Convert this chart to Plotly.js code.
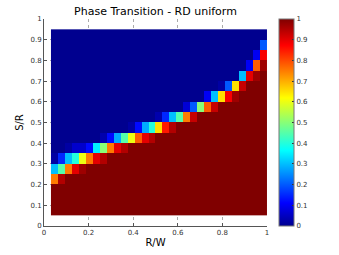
<!DOCTYPE html>
<html>
<head>
<meta charset="utf-8">
<script src="https://cdn.plot.ly/plotly-3.0.1.min.js"></script>
<style>html,body{margin:0;padding:0;background:#fff;}#chart{width:339px;height:255px;}</style>
</head>
<body>
<div id="chart"></div>
<script>
// Column centres along R/W (31 cells of width 1/32) and row centres along S/R (18 cells of 0.05)
var rw = [0.046875,0.078125,0.109375,0.140625,0.171875,0.203125,0.234375,0.265625,0.296875,0.328125,
          0.359375,0.390625,0.421875,0.453125,0.484375,0.515625,0.546875,0.578125,0.609375,0.640625,
          0.671875,0.703125,0.734375,0.765625,0.796875,0.828125,0.859375,0.890625,0.921875,0.953125,0.984375];
var sr = [0.075,0.125,0.175,0.225,0.275,0.325,0.375,0.425,0.475,0.525,0.575,0.625,0.675,0.725,0.775,0.825,0.875,0.925];

// success fraction, one row per S/R value (bottom to top), 31 columns each
var row01 = [1,1,1,1,1,1,1,1,1,1,1,1,1,1,1,1,1,1,1,1,1,1,1,1,1,1,1,1,1,1,1];
var row02 = [1,1,1,1,1,1,1,1,1,1,1,1,1,1,1,1,1,1,1,1,1,1,1,1,1,1,1,1,1,1,1];
var row03 = [1,1,1,1,1,1,1,1,1,1,1,1,1,1,1,1,1,1,1,1,1,1,1,1,1,1,1,1,1,1,1];
var row04 = [0.75,0.95,1,1,1,1,1,1,1,1,1,1,1,1,1,1,1,1,1,1,1,1,1,1,1,1,1,1,1,1,1];
var row05 = [0.3,0.45,0.75,0.9,0.97,1,1,1,1,1,1,1,1,1,1,1,1,1,1,1,1,1,1,1,1,1,1,1,1,1,1];
var row06 = [0.02,0.15,0.3,0.4,0.6,0.75,0.9,0.95,1,1,1,1,1,1,1,1,1,1,1,1,1,1,1,1,1,1,1,1,1,1,1];
var row07 = [0,0,0.02,0.06,0.06,0.12,0.35,0.5,0.75,0.9,0.95,1,1,1,1,1,1,1,1,1,1,1,1,1,1,1,1,1,1,1,1];
var row08 = [0,0,0,0,0,0,0,0.03,0.12,0.28,0.45,0.6,0.78,0.9,0.95,1,1,1,1,1,1,1,1,1,1,1,1,1,1,1,1];
var row09 = [0,0,0,0,0,0,0,0,0,0,0,0.02,0.12,0.28,0.4,0.65,0.85,0.95,1,1,1,1,1,1,1,1,1,1,1,1,1];
var row10 = [0,0,0,0,0,0,0,0,0,0,0,0,0,0,0,0.03,0.15,0.3,0.45,0.75,0.93,1,1,1,1,1,1,1,1,1,1];
var row11 = [0,0,0,0,0,0,0,0,0,0,0,0,0,0,0,0,0,0,0,0.07,0.2,0.5,0.78,0.93,1,1,1,1,1,1,1];
var row12 = [0,0,0,0,0,0,0,0,0,0,0,0,0,0,0,0,0,0,0,0,0,0,0.1,0.3,0.65,0.88,0.97,1,1,1,1];
var row13 = [0,0,0,0,0,0,0,0,0,0,0,0,0,0,0,0,0,0,0,0,0,0,0,0,0.02,0.2,0.65,0.93,1,1,1];
var row14 = [0,0,0,0,0,0,0,0,0,0,0,0,0,0,0,0,0,0,0,0,0,0,0,0,0,0,0,0.3,0.9,0.97,1];
var row15 = [0,0,0,0,0,0,0,0,0,0,0,0,0,0,0,0,0,0,0,0,0,0,0,0,0,0,0,0,0.1,0.78,0.97];
var row16 = [0,0,0,0,0,0,0,0,0,0,0,0,0,0,0,0,0,0,0,0,0,0,0,0,0,0,0,0,0,0.1,0.88];
var row17 = [0,0,0,0,0,0,0,0,0,0,0,0,0,0,0,0,0,0,0,0,0,0,0,0,0,0,0,0,0,0,0.2];
var row18 = [0,0,0,0,0,0,0,0,0,0,0,0,0,0,0,0,0,0,0,0,0,0,0,0,0,0,0,0,0,0,0];

var xTicks = [0,0.2,0.4,0.6,0.8,1];
var xTickText = ['0','0.2','0.4','0.6','0.8','1'];
var yTicks = [0,0.1,0.2,0.3,0.4,0.5,0.6,0.7,0.8,0.9,1];
var yTickText = ['0','0.1','0.2','0.3','0.4','0.5','0.6','0.7','0.8','0.9','1'];
var cbTicks = [0,0.1,0.2,0.3,0.4,0.5,0.6,0.7,0.8,0.9,1];
var cbTickText = ['0','0.1','0.2','0.3','0.4','0.5','0.6','0.7','0.8','0.9','1'];

var z = [row01,row02,row03,row04,row05,row06,row07,row08,row09,row10,row11,row12,row13,row14,row15,row16,row17,row18];

var jet = [[0,'rgb(0,0,143)'],[0.111,'rgb(0,0,255)'],[0.365,'rgb(0,255,255)'],
           [0.619,'rgb(255,255,0)'],[0.873,'rgb(255,0,0)'],[1,'rgb(128,0,0)']];

var tickFont = {family:'DejaVu Sans, sans-serif', size:7, color:'#333'};

var trace = {
  type:'heatmap', x: rw, y: sr, z: z,
  zmin:0, zmax:1, colorscale: jet,
  xgap:0, ygap:0,
  colorbar:{
    x:1.0538, xanchor:'left', xref:'paper',
    y:0.5, yanchor:'middle', len:1, lenmode:'fraction',
    thickness:15, thicknessmode:'pixels',
    outlinewidth:1, outlinecolor:'#777',
    tickmode:'array', tickvals: cbTicks, ticktext: cbTickText,
    ticks:'inside', ticklen:2, tickcolor:'#333',
    tickfont: tickFont, xpad:0, ypad:0
  }
};

var layout = {
  width:339, height:255,
  margin:{l:44, r:72, t:19, b:29, pad:0},
  paper_bgcolor:'#fff', plot_bgcolor:'#fff',
  title:{text:'Phase Transition - RD uniform', x:0.5, xref:'paper', xanchor:'center',
         y:0.955, yref:'container', yanchor:'middle',
         font:{family:'DejaVu Sans, sans-serif', size:11, color:'#000'}},
  xaxis:{range:[0,1], tickmode:'array', tickvals:xTicks, ticktext:xTickText,
         ticks:'inside', ticklen:3, tickcolor:'#555',
         showline:true, linecolor:'#555', linewidth:1, mirror:false,
         showgrid:true, gridcolor:'#aaa', griddash:'dot', gridwidth:1,
         zeroline:false, tickfont:tickFont,
         title:{text:'R/W', standoff:2, font:{family:'DejaVu Sans, sans-serif', size:10, color:'#000'}}},
  yaxis:{range:[0,1], tickmode:'array', tickvals:yTicks, ticktext:yTickText,
         ticks:'inside', ticklen:3, tickcolor:'#555',
         showline:true, linecolor:'#555', linewidth:1, mirror:false,
         showgrid:true, gridcolor:'#aaa', griddash:'dot', gridwidth:1,
         zeroline:false, tickfont:tickFont,
         title:{text:'S/R', standoff:4, font:{family:'DejaVu Sans, sans-serif', size:10, color:'#000'}}}
};

Plotly.newPlot('chart', [trace], layout, {staticPlot:true, displayModeBar:false});
</script>
</body>
</html>
